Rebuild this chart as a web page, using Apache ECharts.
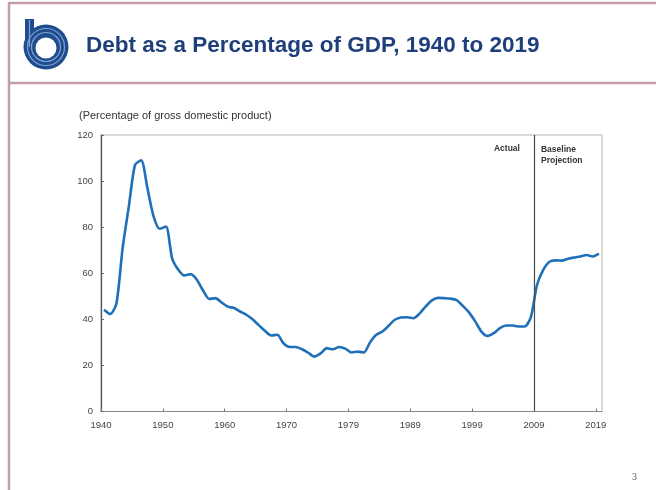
<!DOCTYPE html>
<html>
<head>
<meta charset="utf-8">
<script src="https://cdn.jsdelivr.net/npm/echarts@6/dist/echarts.min.js"></script>
<style>
  html, body { margin: 0; padding: 0; background: #ffffff; }
  #chart { width: 656px; height: 490px; }
</style>
</head>
<body>
<div id="chart"></div>
<script>
// Federal debt held by the public, percent of GDP, one value per year slot
const debt = [
  44.2, 42.3, 47.0, 71.0, 89.0, 107.0, 109.0, 97.0, 84.7, 79.3,
  80.3, 66.5, 61.5, 59.0, 59.6, 57.2, 52.5, 48.8, 49.2, 47.3,
  45.5, 44.9, 43.4, 42.0, 40.0, 37.5, 35.0, 33.0, 33.3, 29.6,
  28.0, 28.0, 27.0, 25.5, 23.8, 25.2, 27.5, 27.0, 28.0, 27.3,
  25.6, 26.0, 25.6, 30.0, 33.3, 34.7, 37.2, 39.8, 40.8, 40.9,
  40.5, 42.5, 45.6, 48.2, 49.3, 49.2, 49.0, 48.3, 45.8, 43.0,
  39.1, 34.7, 32.8, 34.0, 36.2, 37.3, 37.3, 36.9, 36.9, 41.0,
  55.0, 61.5, 65.0, 65.6, 65.5, 66.3, 66.8, 67.3, 67.9, 67.3,
  68.5
];

// Labels placed every ten year slots along the bottom axis
const tickLabels = ['1940', '1950', '1960', '1970', '1979', '1989', '1999', '2009', '2019'];
const tickStep = 10;
const tickValues = tickLabels.map((_, i) => i * tickStep);

// Actual history ends at the tick labelled 2009; baseline projection follows
const projectionStart = tickLabels.indexOf('2009') * tickStep;

const yTicks = [0, 20, 40, 60, 80, 100, 120];

const titleText = 'Debt as a Percentage of GDP, 1940 to 2019';
const unitText = '(Percentage of gross domestic product)';

const chart = echarts.init(document.getElementById('chart'), null, { renderer: 'canvas' });

const lineData = debt.map((v, k) => [k + 0.5, v]);

const option = {
  backgroundColor: '#ffffff',
  animation: false,
  grid: {
    left: 101, right: 54, top: 135, bottom: 78.5,
    show: true, borderColor: '#b4b4b4', borderWidth: 1, backgroundColor: 'transparent'
  },
  xAxis: {
    type: 'value',
    min: 0,
    max: debt.length,
    interval: tickStep,
    splitLine: { show: false },
    axisLine: { show: true, lineStyle: { color: '#8a8a8a', width: 1.2 } },
    axisTick: { show: true, inside: true, length: 3, customValues: tickValues, lineStyle: { color: '#777' } },
    axisLabel: {
      customValues: tickValues,
      formatter: v => tickLabels[Math.round(v / tickStep)] || '',
      color: '#444', fontFamily: 'Arial, "Liberation Sans", sans-serif', fontSize: 9.5, margin: 9
    }
  },
  yAxis: {
    type: 'value',
    min: yTicks[0],
    max: yTicks[yTicks.length - 1],
    interval: 20,
    splitLine: { show: false },
    axisLine: { show: true, lineStyle: { color: '#555', width: 1.3 } },
    axisTick: { show: true, inside: true, length: 3, lineStyle: { color: '#666' } },
    axisLabel: { color: '#444', fontFamily: 'Arial, "Liberation Sans", sans-serif', fontSize: 9.5, margin: 8 }
  },
  series: [{
    type: 'line',
    data: lineData,
    showSymbol: false,
    smooth: 0.25,
    lineStyle: { color: '#1f70b8', width: 2.6 },
    markLine: {
      silent: true,
      symbol: 'none',
      label: { show: false },
      lineStyle: { color: '#4a4a4a', width: 1.2, type: 'solid' },
      data: [{ xAxis: projectionStart }]
    }
  }]
};
chart.setOption(option);

// Annotation positions follow the axis scales
const divTop = chart.convertToPixel({ gridIndex: 0 }, [projectionStart, yTicks[yTicks.length - 1]]);
const noteFont = 'bold 8.5px Arial, "Liberation Sans", sans-serif';

chart.setOption({
  graphic: [
    // slide frame
    { type: 'line', shape: { x1: 9, y1: 3, x2: 656, y2: 3 }, style: { stroke: '#c39fa5', lineWidth: 2.5 } },
    { type: 'line', shape: { x1: 9, y1: 83, x2: 656, y2: 83 }, style: { stroke: '#c39fa5', lineWidth: 2.5 } },
    { type: 'line', shape: { x1: 9, y1: 2, x2: 9, y2: 490 }, style: { stroke: '#c39fa5', lineWidth: 2.5 } },
    // logo mark
    { type: 'circle', shape: { cx: 46, cy: 47, r: 22.5 }, style: { fill: '#1f4c8f' } },
    { type: 'rect', shape: { x: 25, y: 19, width: 9, height: 28 }, style: { fill: '#1f4c8f' } },
    { type: 'arc', shape: { cx: 46, cy: 47, r: 18.5, startAngle: 0, endAngle: Math.PI * 2 }, style: { stroke: '#7fa4d2', lineWidth: 1.2, fill: null } },
    { type: 'arc', shape: { cx: 46, cy: 47, r: 14.5, startAngle: 0, endAngle: Math.PI * 2 }, style: { stroke: '#7fa4d2', lineWidth: 1.2, fill: null } },
    { type: 'line', shape: { x1: 29.5, y1: 20, x2: 29.5, y2: 47 }, style: { stroke: '#7fa4d2', lineWidth: 1.2 } },
    { type: 'circle', shape: { cx: 46, cy: 48, r: 10.5 }, style: { fill: '#ffffff' } },
    // title
    { type: 'text', left: 86, top: 34, style: { text: titleText, fill: '#1e3f7a', font: 'bold 22.5px Arial, "Liberation Sans", sans-serif' } },
    // unit label
    { type: 'text', left: 79, top: 110, style: { text: unitText, fill: '#333', font: '11px Arial, "Liberation Sans", sans-serif' } },
    // actual / projection notes
    { type: 'text', x: divTop[0] - 14, y: divTop[1] + 9, style: { text: 'Actual', fill: '#333', font: noteFont, align: 'right' } },
    { type: 'text', x: divTop[0] + 7, y: divTop[1] + 9, style: { text: 'Baseline\nProjection', fill: '#333', font: noteFont, align: 'left', lineHeight: 11 } },
    // page number
    { type: 'text', left: 632, top: 472, style: { text: '3', fill: '#555', font: '10px "Liberation Serif", "DejaVu Serif", serif' } }
  ]
});
</script>
</body>
</html>
